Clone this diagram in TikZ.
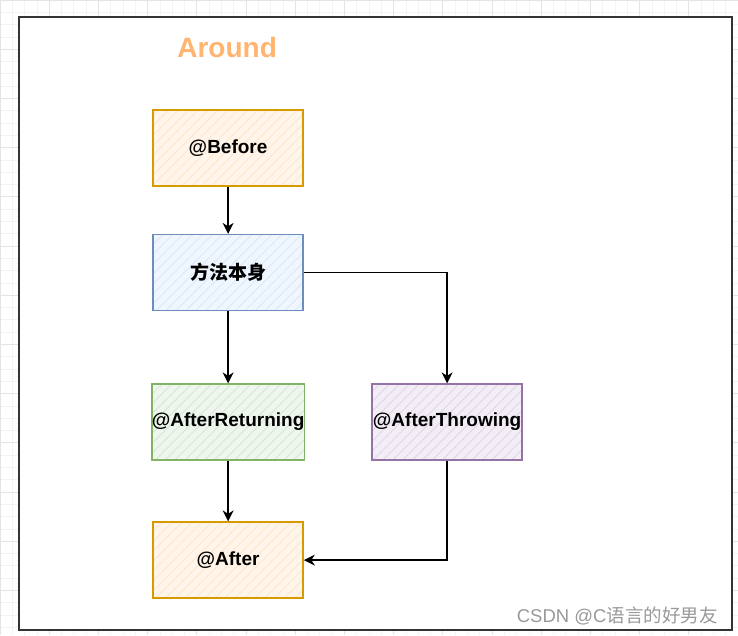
\documentclass[tikz,border=0pt]{standalone}
\usepackage{fontspec}
\setmainfont{Liberation Sans}
\newfontfamily\cjk{Noto Sans CJK SC}
\usepackage{tikz}
\usetikzlibrary{arrows.meta,positioning,calc,patterns.meta}
\definecolor{AopInk}{HTML}{000000}
\definecolor{AopFrame}{HTML}{333333}
\definecolor{AopGridMinor}{HTML}{F3F3F3}
\definecolor{AopGridMajor}{HTML}{E4E4E4}
\definecolor{AopTitle}{HTML}{FFB570}
\definecolor{AopMark}{HTML}{999999}
\definecolor{OrangeLine}{HTML}{D79B00}
\definecolor{OrangeFill}{HTML}{FFE6CC}
\definecolor{BlueLine}{HTML}{6C8EBF}
\definecolor{BlueFill}{HTML}{DAE8FC}
\definecolor{GreenLine}{HTML}{82B366}
\definecolor{GreenFill}{HTML}{D5E8D4}
\definecolor{PurpleLine}{HTML}{9673A6}
\definecolor{PurpleFill}{HTML}{E1D5E7}
\tikzset{
  advice/.style n args={2}{draw=#1,line width=1.5pt,minimum width=150pt,minimum height=76pt,
    preaction={fill=#2!40},preaction={pattern={Lines[angle=45,distance=7pt,line width=0.9pt]},pattern color=#2},
    text=AopInk,font=\bfseries\fontsize{19}{22}\selectfont,inner sep=0pt},
  flow/.style={draw=AopInk,line width=1.4pt,-{Stealth[length=11pt,width=11pt,inset=3.5pt]}}
}

\begin{document}
\begin{tikzpicture}[x=1pt,y=-1pt]
\useasboundingbox (0,0) rectangle (738,635);
\draw[AopGridMinor,line width=0.8pt,step=12.3pt] (0,0) grid (738,635);
\draw[AopGridMajor,line width=0.8pt,step=49.2pt] (0,0) grid (738,635);
\node[fill=white,draw=AopFrame,line width=1.8pt,minimum width=713pt,minimum height=613pt] (c) at (375.5,323.5) {};
\node[text=AopTitle,font=\bfseries\fontsize{28}{32}\selectfont] (title) at ($(c.north west)+(209,31)$) {Around};
\node[advice={OrangeLine}{OrangeFill}] (before) at ($(c.north west)+(210,132)$) {@Before};
\node[advice={BlueLine}{BlueFill}] (method) at ($(c.north west)+(210,256.5)$) {\cjk\bfseries 方法本身};
\node[advice={GreenLine}{GreenFill}] (afterret) at ($(c.north west)+(210,406)$) {@AfterReturning};
\node[advice={PurpleLine}{PurpleFill}] (afterthrow) at ($(c.north west)+(429,406)$) {@AfterThrowing};
\node[advice={OrangeLine}{OrangeFill}] (after) at ($(c.north west)+(210,544)$) {@After};
\node[anchor=east,text=AopMark,font=\fontsize{18.5}{22}\selectfont] (mark) at ($(c.north west)+(703,600)$) {CSDN @C{\cjk 语言的好男友}};
\draw[flow] (before) -- (method);
\draw[flow] (method) -- (afterret);
\draw[flow] (method.east) -| (afterthrow.north);
\draw[flow] (afterret) -- (after);
\draw[flow] (afterthrow.south) |- (after.east);
\end{tikzpicture}
\end{document}
